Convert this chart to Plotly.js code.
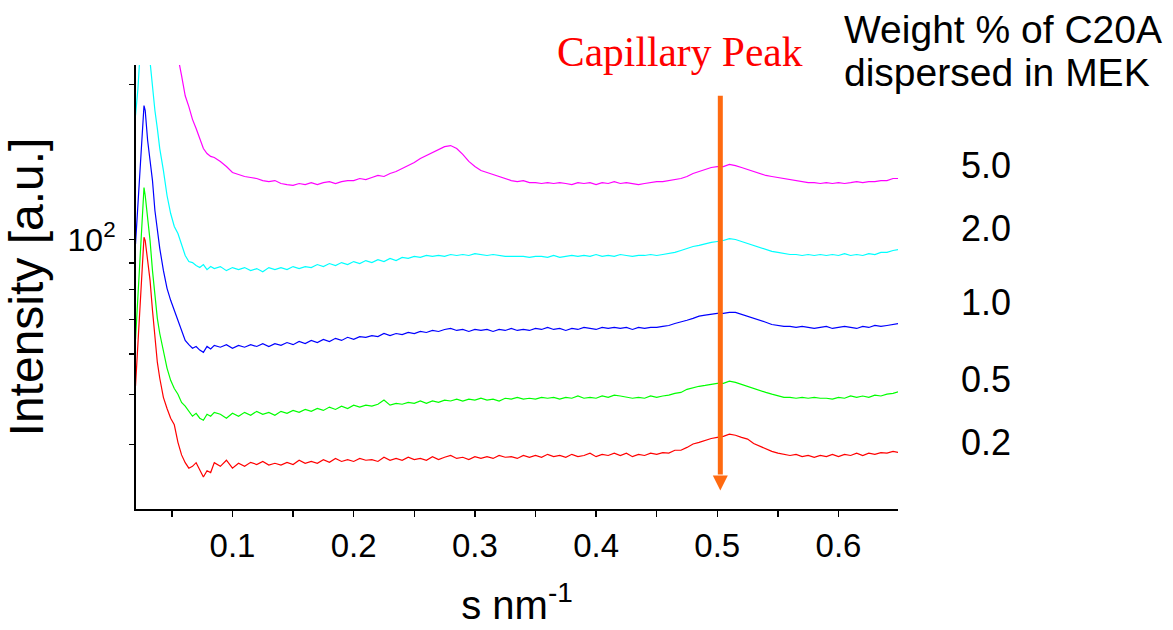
<!DOCTYPE html>
<html>
<head>
<meta charset="utf-8">
<script src="https://cdn.plot.ly/plotly-3.0.1.min.js"></script>
<style>html,body{margin:0;padding:0;background:#fff;}#chart{width:1173px;height:630px;}</style>
</head>
<body>
<div id="chart"></div>
<script>
// scattering vector s (nm^-1)
const sEarly = [0.020,0.022,0.024,0.026,0.027,0.028,0.030,0.032,0.034,0.036,0.038,0.040,0.043,0.046,0.049,0.052,0.055,0.058,0.061,0.064,0.067,0.070,0.073,0.076,0.079,0.082,0.085];
const sTail = [0.090,0.095,0.100,0.105,0.110,0.115,0.120,0.125,0.130,0.135,
  0.140,0.145,0.150,0.155,0.160,0.165,0.170,0.175,0.180,0.185,
  0.190,0.195,0.200,0.205,0.210,0.215,0.220,0.225,0.230,0.235,
  0.240,0.245,0.250,0.255,0.260,0.265,0.270,0.275,0.280,0.285,
  0.290,0.295,0.300,0.305,0.310,0.315,0.320,0.325,0.330,0.335,
  0.340,0.345,0.350,0.355,0.360,0.365,0.370,0.375,0.380,0.385,
  0.390,0.395,0.400,0.405,0.410,0.415,0.420,0.425,0.430,0.435,
  0.440,0.445,0.450,0.455,0.460,0.465,0.470,0.475,0.480,0.485,
  0.490,0.495,0.500,0.505,0.510,0.515,0.520,0.525,0.530,0.535,
  0.540,0.545,0.550,0.555,0.560,0.565,0.570,0.575,0.580,0.585,
  0.590,0.595,0.600,0.605,0.610,0.615,0.620,0.625,0.630,0.635,
  0.640,0.645,0.650];

// 0.2 wt% (red)
const red02Early = [52.0,62.3,75.8,93.1,101.0,99.5,91.9,83.3,72.9,63.7,57.8,53.8,49.4,47.0,45.0,43.7,40.4,38.2,36.9,36.0,36.3,36.9,35.6,34.6,35.6,35.3,36.9];
const red02Tail = [36.3,37.3,36.0,36.8,36.3,36.95,36.6,37.1,36.5,36.8,
  36.5,36.95,36.6,37.3,36.8,37.1,36.8,37.4,36.95,37.6,
  37.1,37.4,37.1,37.6,37.3,37.4,37.1,37.8,37.3,37.6,
  37.3,37.8,37.4,37.6,37.3,37.9,37.4,37.8,38.1,37.6,
  37.8,37.4,37.9,37.6,37.9,37.6,38.1,37.8,37.9,37.6,
  38.1,37.8,38.1,37.8,38.3,37.9,38.1,37.8,38.3,37.9,
  38.1,38.5,37.9,38.3,38.1,38.5,38.1,38.5,37.9,38.3,
  38.1,38.5,38.3,38.6,38.5,39.0,39.0,39.5,40.1,40.4,
  40.8,41.1,41.3,41.5,41.9,41.7,41.3,41.0,40.2,39.7,
  39.2,38.8,38.5,38.3,38.1,38.3,37.9,38.1,37.8,38.1,
  37.9,38.3,37.9,38.3,38.1,38.5,38.1,38.5,38.3,38.6,
  38.5,38.8,38.6];

// 0.5 wt% (green)
const green05Early = [64.0,77.9,94.8,116.4,126.1,121.7,111.3,99.5,87.0,76.8,70.3,65.7,60.4,56.3,53.3,51.4,50.1,48.3,47.5,46.4,45.4,46.0,45.0,44.6,45.8,45.4,46.2];
const green05Tail = [45.8,45.0,46.0,45.4,46.2,45.6,46.4,45.8,46.2,45.6,
  46.4,46.0,46.6,46.2,46.8,46.4,47.0,46.6,47.3,46.8,
  47.5,47.0,47.7,47.3,47.7,47.5,47.9,48.8,47.7,48.1,
  47.9,48.3,48.1,48.6,48.1,48.6,48.3,48.8,48.6,49.0,
  48.6,49.0,48.8,49.2,48.8,49.0,48.6,49.2,49.0,49.4,
  49.0,49.2,49.0,49.4,49.2,49.4,49.0,49.4,49.2,49.7,
  49.2,49.4,49.2,49.7,49.4,49.9,49.7,49.4,49.2,49.4,
  49.2,49.7,49.4,49.7,49.9,50.3,50.5,51.2,51.6,51.9,
  52.1,52.3,52.6,52.6,53.1,52.8,52.3,51.9,51.4,51.0,
  50.5,50.1,49.7,49.4,49.4,49.2,49.4,49.2,49.4,49.2,
  49.2,49.0,49.4,49.2,49.7,49.4,49.7,49.4,49.9,49.7,
  50.1,50.3,50.7];

// 1.0 wt% (blue)
const blue10Early = [98.0,116.9,140.0,168.6,181.9,177.9,155.6,142.3,130.1,113.8,103.2,96.1,87.1,80.4,76.2,72.8,69.1,66.6,63.7,62.5,61.5,62.0,61.0,60.4,62.0,61.3,62.3];
const blue10Tail = [61.8,62.5,61.5,62.3,61.8,62.5,62.0,62.8,62.0,62.8,
  62.3,63.1,62.5,63.4,62.8,63.7,63.1,64.0,63.4,64.3,
  63.7,64.6,64.0,64.8,64.6,65.1,64.8,65.7,65.1,65.7,
  65.4,66.0,65.7,66.3,66.0,66.6,66.3,66.9,67.2,66.6,
  66.9,66.3,66.9,66.6,66.9,66.3,66.9,66.6,67.2,66.6,
  66.9,66.6,67.2,66.9,67.5,66.9,67.2,66.6,67.2,66.9,
  67.5,67.2,66.9,67.5,67.2,67.5,67.2,67.5,66.9,67.5,
  67.2,67.5,67.5,67.8,68.1,68.7,69.1,69.7,70.3,71.0,
  71.3,71.6,71.9,71.9,72.2,72.2,71.6,71.0,70.3,69.7,
  69.1,68.4,68.1,67.8,67.8,67.5,67.8,67.5,67.2,67.5,
  67.8,67.2,67.5,67.8,67.5,67.2,67.8,67.5,68.1,67.8,
  68.1,68.4,68.7];

// 2.0 wt% (cyan)
const cyan20Early = [174,196,235,270,280,275,245,219,196,177.9,164.2,150.1,136.1,121.7,112.3,106.0,102.7,98.2,93.1,90.6,90.2,89.0,88.2,89.4,87.4,88.6,87.8];
const cyan20Tail = [88.6,87.0,88.2,87.4,88.2,87.0,87.8,86.6,88.2,87.4,
  88.2,87.4,88.6,87.8,88.6,88.2,89.4,88.6,89.8,89.0,
  90.2,89.4,90.6,89.8,91.0,90.2,91.4,90.6,91.9,91.0,
  92.3,91.9,92.7,92.3,93.1,92.7,93.1,92.7,93.5,93.1,
  93.5,93.1,93.9,93.5,93.1,93.5,93.1,92.7,92.7,92.7,
  92.7,92.3,92.7,92.7,92.3,93.1,92.3,92.7,93.1,92.7,
  93.1,92.7,93.5,92.7,93.1,92.7,93.5,93.1,92.7,93.1,
  93.1,93.5,93.1,93.5,93.9,94.4,95.2,96.1,96.9,97.4,
  98.2,98.7,99.1,99.55,100.4,100.0,99.1,98.2,97.4,96.5,
  95.6,94.8,94.4,93.9,93.5,93.5,93.1,93.5,93.1,93.5,
  93.1,93.5,93.1,93.9,93.1,93.5,93.1,93.9,93.5,94.4,
  94.4,95.2,95.6];

// 5.0 wt% (magenta)
const mag50Early = [600,560,520,490,480,470,450,430,410,390,370,350,320,290,265,245,226,208,190,181,171,164.2,157.0,150.1,146.8,144.9,144.2];
const mag50Tail = [141.7,138.5,134.9,133.7,132.5,131.9,131.3,130.1,129.5,130.1,
  128.4,127.8,127.3,128.4,127.8,128.9,127.8,128.9,129.5,128.4,
  129.5,130.1,130.1,131.3,130.7,131.9,133.1,132.5,134.3,135.5,
  137.3,139.1,141.0,143.6,145.5,147.5,149.4,151.4,152.1,150.1,
  146.2,141.7,138.5,136.1,134.9,133.7,132.5,131.3,130.1,129.5,
  130.1,128.9,128.9,128.4,128.9,128.4,128.9,128.4,127.8,128.9,
  128.4,128.9,127.8,128.9,128.4,129.5,128.4,128.9,128.4,127.8,
  128.4,128.9,129.5,129.5,130.1,130.7,131.3,132.5,134.3,135.5,
  136.7,137.9,138.5,138.5,139.8,139.1,137.9,136.7,135.5,134.3,
  133.1,132.5,131.9,131.3,130.7,130.1,129.5,128.9,128.9,128.4,
  128.9,128.4,128.9,128.4,128.9,129.5,128.9,129.5,129.5,130.1,
  130.1,131.3,131.3];

const seriesNames = ['0.2','0.5','1.0','2.0','5.0'];
const seriesColors = ['#ff0000','#00ff00','#0000ff','#00ffff','#ff00ff'];
const seriesY = [red02Early.concat(red02Tail), green05Early.concat(green05Tail), blue10Early.concat(blue10Tail), cyan20Early.concat(cyan20Tail), mag50Early.concat(mag50Tail)];
const sAll = sEarly.concat(sTail);

// right-hand wt% labels, vertical position in paper fraction
const labelY = [0.150, 0.292, 0.465, 0.632, 0.774];

const xTickVals = [0.1,0.2,0.3,0.4,0.5,0.6];
const xTickText = ['0.1','0.2','0.3','0.4','0.5','0.6'];
const xMinorVals = [0.05,0.15,0.25,0.35,0.45,0.55,0.65];
const yTickVals = [100];
const yTickText = ['10<sup>2</sup>'];
const yMinorVals = [40,50,60,70,80,90,200];

// capillary-peak arrow (s position, top and tip intensities)
const arrowS = 0.5025;
const arrowTop = 190;
const arrowShaftEnd = 35;
const arrowTip = 32.6;

const traces = seriesY.map((y, i) => ({
  x: sAll, y: y, type: 'scatter', mode: 'lines',
  name: seriesNames[i] + ' wt%',
  line: {color: seriesColors[i], width: 1.2},
  showlegend: false
}));
traces.push({
  x: [arrowS, arrowS], y: [arrowTop, arrowShaftEnd], type: 'scatter', mode: 'lines',
  name: 'capillary peak', line: {color: '#ff6a10', width: 5}, showlegend: false, hoverinfo: 'skip'
});
traces.push({
  x: [arrowS], y: [arrowTip], type: 'scatter', mode: 'markers',
  name: 'capillary peak', showlegend: false, hoverinfo: 'skip', cliponaxis: false,
  marker: {symbol: 'arrow-down', size: 15, color: '#ff6a10', line: {width: 0}}
});

const font = 'Liberation Sans, Arial, Helvetica, sans-serif';
const annotations = seriesNames.map((t, i) => ({
  text: t, xref: 'paper', yref: 'paper', x: 1.1155, y: labelY[i],
  xanchor: 'center', yanchor: 'middle', showarrow: false,
  font: {family: font, size: 36, color: '#000'}
}));
annotations.push({
  text: 'Weight % of C20A', xref: 'paper', yref: 'paper', x: 0.927, y: 1.080,
  xanchor: 'left', yanchor: 'middle', showarrow: false,
  font: {family: font, size: 39, color: '#000'}
});
annotations.push({
  text: 'dispersed in MEK', xref: 'paper', yref: 'paper', x: 0.927, y: 0.982,
  xanchor: 'left', yanchor: 'middle', showarrow: false,
  font: {family: font, size: 39, color: '#000'}
});
annotations.push({
  text: 'Capillary Peak', xref: 'paper', yref: 'paper', x: 0.714, y: 1.03,
  xanchor: 'center', yanchor: 'middle', showarrow: false,
  font: {family: 'Liberation Serif, Times New Roman, serif', size: 41.5, color: '#ff0000'}
});

const layout = {
  width: 1173, height: 630,
  margin: {l: 136, r: 275, t: 65, b: 121},
  paper_bgcolor: '#ffffff', plot_bgcolor: '#ffffff',
  font: {family: font, color: '#000'},
  xaxis: {
    range: [0.0204, 0.6491], showgrid: false, zeroline: false,
    showline: true, linecolor: '#000', linewidth: 2,
    ticks: 'outside', ticklen: 6, tickwidth: 1.5, tickcolor: '#000',
    tickmode: 'array', tickvals: xTickVals, ticktext: xTickText,
    minor: {tickmode: 'array', tickvals: xMinorVals, ticks: 'outside', ticklen: 6, tickwidth: 1.5, tickcolor: '#000', showgrid: false},
    tickfont: {family: font, size: 33, color: '#000'},
    title: {text: 's nm<sup>-1</sup>', font: {family: font, size: 40, color: '#000'}, standoff: 28}
  },
  yaxis: {
    type: 'log', range: [Math.log10(30), Math.log10(218)],
    showgrid: false, zeroline: false,
    showline: true, linecolor: '#000', linewidth: 2,
    ticks: 'outside', ticklen: 5, tickwidth: 1.5, tickcolor: '#000',
    tickmode: 'array', tickvals: yTickVals, ticktext: yTickText,
    ticklabelstandoff: 7,
    minor: {tickmode: 'array', tickvals: yMinorVals, ticks: 'outside', ticklen: 5, tickwidth: 1.5, tickcolor: '#000', showgrid: false},
    tickfont: {family: font, size: 32, color: '#000'},
    title: {text: 'Intensity [a.u.]', font: {family: font, size: 48, color: '#000'}, standoff: 22}
  },
  annotations: annotations
};

Plotly.newPlot('chart', traces, layout, {staticPlot: true, displayModeBar: false});
</script>
</body>
</html>
